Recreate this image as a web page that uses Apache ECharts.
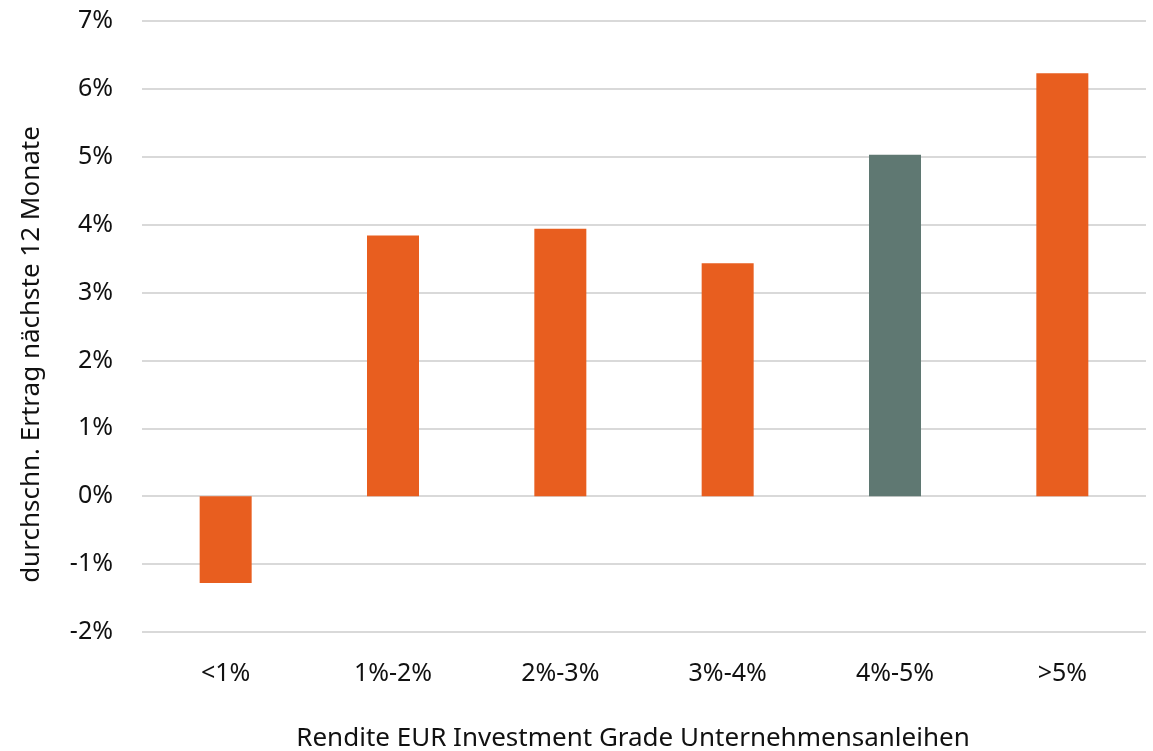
<!DOCTYPE html>
<html><head><meta charset="utf-8">
<script src="https://cdn.jsdelivr.net/npm/echarts@6/dist/echarts.min.js"></script>
<style>html,body{margin:0;padding:0;background:#fff}#c{width:1153px;height:751px}</style>
</head><body><div id="c"></div>
<script>
const categories = ['<1%', '1%-2%', '2%-3%', '3%-4%', '4%-5%', '>5%'];
const values = [-1.28, 3.84, 3.94, 3.43, 5.03, 6.23];
const highlightIndex = 4;
const yTicks = [-2, -1, 0, 1, 2, 3, 4, 5, 6, 7];

const orange = '#E85E1F';
const slate = '#5F7872';
const font = '"Noto Sans", "Open Sans", sans-serif';
const textColor = '#111111';

const chart = echarts.init(document.getElementById('c'), null, {renderer: 'canvas'});
chart.setOption({
  animation: false,
  grid: {left: 142, right: 7, top: 21, bottom: 119, containLabel: false, outerBoundsMode: 'none'},
  xAxis: {
    type: 'category', data: categories,
    axisLine: {show: false}, axisTick: {show: false},
    axisLabel: {color: textColor, fontSize: 25, fontFamily: font, margin: 29},
    name: 'Rendite EUR Investment Grade Unternehmensanleihen',
    nameLocation: 'middle', nameGap: 94,
    nameTextStyle: {color: textColor, fontSize: 26, fontFamily: font, padding: [0, 22, 0, 0]}
  },
  yAxis: {
    type: 'value', min: yTicks[0], max: yTicks[yTicks.length - 1], interval: 1,
    axisLine: {show: false}, axisTick: {show: false},
    splitLine: {lineStyle: {color: '#d9d9d9', width: 2}},
    axisLabel: {color: textColor, fontSize: 25, fontFamily: font, margin: 29, formatter: v => v + '%'},
    name: 'durchschn. Ertrag nächste 12 Monate',
    nameLocation: 'middle', nameGap: 97, nameRotate: 90,
    nameTextStyle: {color: textColor, fontSize: 26, fontFamily: font, padding: [0, 56, 0, 0]}
  },
  series: [{
    type: 'bar', barWidth: 52,
    data: values.map((v, i) => ({value: v, itemStyle: {color: i === highlightIndex ? slate : orange}}))
  }]
});
</script></body></html>
